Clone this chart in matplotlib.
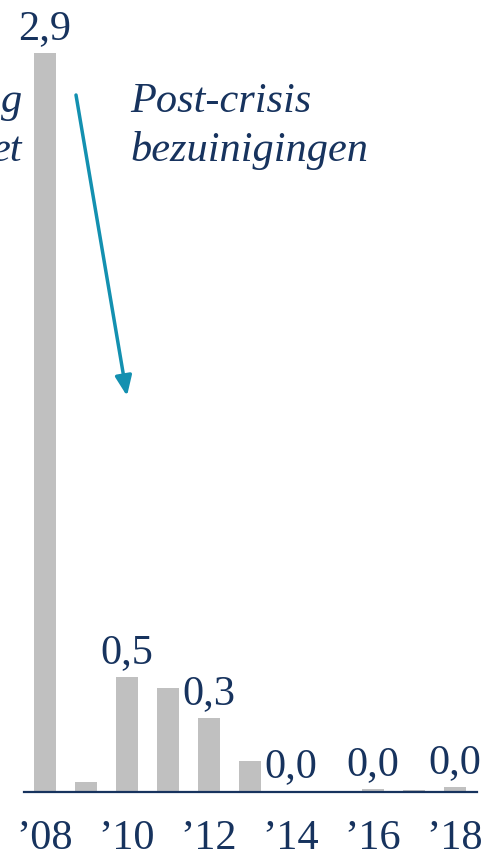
import matplotlib
matplotlib.use("Agg")
import matplotlib.pyplot as plt

years = [2008, 2009, 2010, 2011, 2012, 2013, 2014, 2015, 2016, 2017, 2018]
values = [2.9, 0.04, 0.45, 0.41, 0.29, 0.12, 0.005, 0.003, 0.01, 0.006, 0.02]
label_years = [2008, 2010, 2012, 2014, 2016, 2018]
label_texts = ["2,9", "0,5", "0,3", "0,0", "0,0", "0,0"]
tick_years = [2008, 2010, 2012, 2014, 2016, 2018]
tick_labels = ["\u201908", "\u201910", "\u201912", "\u201914", "\u201916", "\u201918"]

navy = "#17335E"
teal = "#1390B0"
grey = "#C0C0C0"
FS = 30.5

W, H = 486, 852
fig = plt.figure(figsize=(W / 100, H / 100), dpi=100)
ax = fig.add_axes([24 / W, 60 / H, (477 - 24) / W, 792 / H])
ax.bar(years, values, width=0.55, color=grey)
ax.set_xlim(2007.49, 2018.54)
ax.set_ylim(0, 2.9 * 792 / 739)
for s in ["top", "right", "left"]:
    ax.spines[s].set_visible(False)
ax.spines["bottom"].set_color(navy)
ax.spines["bottom"].set_linewidth(1.6)
ax.set_yticks([])
ax.set_xticks(tick_years)
ax.set_xticklabels(tick_labels, family="Liberation Serif", fontsize=FS, color=navy)
ax.tick_params(axis="x", length=0, pad=20)

vals = dict(zip(years, values))
for y, t in zip(label_years, label_texts):
    ax.annotate(t, (y, vals[y]), xytext=(0, 10), textcoords="offset points",
                ha="center", va="baseline", family="Liberation Serif",
                fontsize=FS, color=navy, annotation_clip=False)

fig.text(130 / W, 1 - 112 / H, "Post-crisis", family="Liberation Serif", style="italic",
         fontsize=FS, color=navy, ha="left", va="baseline")
fig.text(130 / W, 1 - 161 / H, "bezuinigingen", family="Liberation Serif", style="italic",
         fontsize=FS, color=navy, ha="left", va="baseline")
fig.text(22 / W, 1 - 112 / H, "g", family="Liberation Serif", style="italic",
         fontsize=FS, color=navy, ha="right", va="baseline")
fig.text(22 / W, 1 - 161 / H, "et", family="Liberation Serif", style="italic",
         fontsize=FS, color=navy, ha="right", va="baseline")

fig.patches.append(matplotlib.patches.FancyArrowPatch(
    (76 / W, 1 - 95 / H), (127 / W, 1 - 396 / H), transform=fig.transFigure,
    arrowstyle="-|>,head_length=12,head_width=5", color=teal, lw=2.5,
    mutation_scale=1, shrinkA=0, shrinkB=0))

fig.savefig("out.png", dpi=100)
